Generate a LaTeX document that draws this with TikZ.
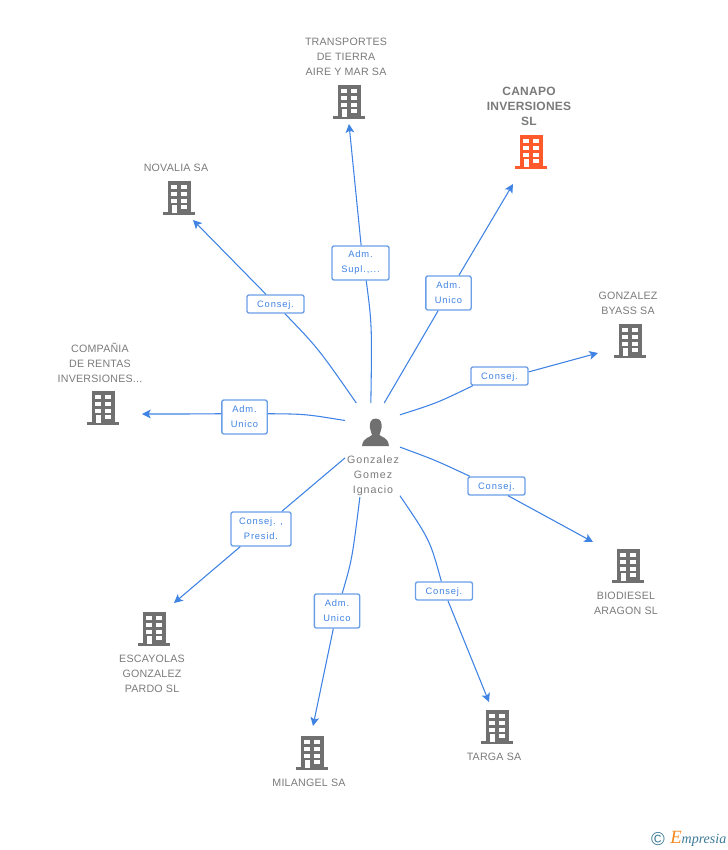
\documentclass[tikz,border=0pt]{standalone}
\usepackage{fontspec}
\setmainfont[LetterSpace=2]{Liberation Sans}
\newfontfamily\linkfont[LetterSpace=9]{Liberation Sans}
\newfontfamily\logofont{Liberation Serif}
\usepackage{tikz}
\usetikzlibrary{arrows.meta}
\definecolor{linkblue}{HTML}{3F83E4}
\definecolor{boxblue}{HTML}{6A9FE8}
\definecolor{bldggray}{HTML}{707070}
\definecolor{textgray}{HTML}{7A7A7A}
\definecolor{mainred}{HTML}{FF5A2C}
\definecolor{logoteal}{HTML}{3C7A96}
\definecolor{logoorange}{HTML}{F28A1E}
\tikzstyle{company}=[align=center,text=textgray,inner sep=0,font=\fontsize{8}{11.25}\selectfont]
\tikzstyle{maincompany}=[company,font=\fontsize{9}{11.25}\selectfont\bfseries]
\tikzstyle{person}=[company,font=\linkfont\fontsize{8}{11.25}\selectfont]
\tikzstyle{role}=[draw=boxblue,fill=white,rounded corners=1.5pt,line width=1pt,align=center,
  text=linkblue,inner sep=0,font=\linkfont\fontsize{7}{11.25}\selectfont,
  execute at begin node={\rule{0pt}{6.9pt}}]
\tikzstyle{link}=[draw=linkblue,line width=0.8pt]
\tikzstyle{arrow}=[link,-{Stealth[length=6.5pt,width=6.5pt,inset=1.5pt]}]
\tikzset{
  pics/building/.style={code={
    \fill[#1] (-11,-34) rectangle (12,-2);
    \fill[#1] (-16,-3) rectangle (16,0);
    \foreach \ypos in {-30,-23,-16} {
      \fill[white] (-7.7,\ypos) rectangle (-2.3,\ypos+4);
      \fill[white] (2.3,\ypos) rectangle (7.7,\ypos+4);
    }
    \fill[white] (2.3,-10) rectangle (7.7,-6);
    \fill[white] (-7,-10) rectangle (-2.3,-2);
  }}
}
\begin{document}
\begin{tikzpicture}[x=0.75pt,y=-0.75pt]
  \useasboundingbox (0,0) rectangle (728,850);
  % companies
  \pic at (349,119) {building=bldggray};
  \pic at (531,169) {building=mainred};
  \pic at (179,215) {building=bldggray};
  \pic at (630,358) {building=bldggray};
  \pic at (103,425) {building=bldggray};
  \pic at (628,583) {building=bldggray};
  \pic at (154,646) {building=bldggray};
  \pic at (312,770) {building=bldggray};
  \pic at (497,744) {building=bldggray};
  \node[company] at (346,57) (transportes) {TRANSPORTES\\DE TIERRA\\AIRE Y MAR SA};
  \node[maincompany] at (529,106) (canapo) {CANAPO\\INVERSIONES\\SL};
  \node[company] at (176,168) (novalia) {NOVALIA SA};
  \node[company] at (628,303.5) (byass) {GONZALEZ\\BYASS SA};
  \node[company] at (100,363) (rentas) {COMPA\~NIA\\DE RENTAS\\INVERSIONES...};
  \node[company] at (626,603.5) (biodiesel) {BIODIESEL\\ARAGON SL};
  \node[company] at (152,674) (escayolas) {ESCAYOLAS\\GONZALEZ\\PARDO SL};
  \node[company] at (309,783) (milangel) {MILANGEL SA};
  \node[company] at (494,757) (targa) {TARGA SA};
  % person
  \fill[bldggray] (375.7,418.5) .. controls (370,418.5) and (369.5,424) .. (370,428)
    .. controls (370.5,431) and (371.5,433) .. (372,435)
    .. controls (371,437) and (363,437) .. (362,446)
    -- (389,446) .. controls (388,437) and (381,437) .. (379.5,435)
    .. controls (380,433) and (381,431) .. (381.5,428)
    .. controls (382,424) and (381.5,418.5) .. (375.7,418.5) -- cycle;
  \node[person] at (373,476) (name) {Gonzalez\\Gomez\\Ignacio};
  \node[minimum width=41.25pt,minimum height=70.5pt,inner sep=0,outer sep=0] at (372.5,450) (hub) {};
  % roles
  \node[role,minimum width=42.75pt,minimum height=25.5pt] at (360.5,263) (supl) {Adm.\\Supl.,...};
  \node[role,minimum width=34pt,minimum height=25.5pt] at (448.5,293) (unicocanapo) {Adm.\\Unico};
  \node[role,minimum width=42.75pt,minimum height=13.5pt] at (275.5,304) (consejnovalia) {Consej.};
  \node[role,minimum width=42.75pt,minimum height=13.5pt] at (499.5,376) (consejbyass) {Consej.};
  \node[role,minimum width=34pt,minimum height=25.5pt] at (244.5,417) (unicorentas) {Adm.\\Unico};
  \node[role,minimum width=42.75pt,minimum height=13.5pt] at (496.5,486) (consejbiodiesel) {Consej.};
  \node[role,minimum width=45pt,minimum height=25.5pt] at (261,529) (presid) {Consej. ,\\Presid.};
  \node[role,minimum width=34pt,minimum height=25.5pt] at (337,611) (unicomilangel) {Adm.\\Unico};
  \node[role,minimum width=42.75pt,minimum height=13.5pt] at (444,591) (consejtarga) {Consej.};
  % arrow ends
  \coordinate (tiptransportes) at (349,124);
  \coordinate (tipcanapo) at (513,184);
  \coordinate (tipnovalia) at (193,220);
  \coordinate (tipbyass) at (598,353);
  \coordinate (tiprentas) at (142,414);
  \coordinate (tipbiodiesel) at (593,542);
  \coordinate (tipescayolas) at (174,603);
  \coordinate (tipmilangel) at (313,726);
  \coordinate (tiptarga) at (489,702);
  % connectors
  \draw[link] (hub.92) .. controls (372,325) .. (supl.-72);
  \draw[arrow] (supl.88) -- (tiptransportes);
  \draw[link] (hub.76) -- (unicocanapo);
  \draw[arrow] (unicocanapo) -- (tipcanapo);
  \draw[link] (hub.109) .. controls (318,348) .. (consejnovalia);
  \draw[arrow] (consejnovalia) -- (tipnovalia);
  \draw[link] (hub.52) .. controls (437,403) .. (consejbyass.-160);
  \draw[arrow] (consejbyass.8) -- (tipbyass);
  \draw[link] (hub.133.6) .. controls (305,414) .. (unicorentas.8);
  \draw[arrow] (unicorentas.172) .. controls (190,414) .. (tiprentas);
  \draw[link] (hub.6) .. controls (435,460) .. (consejbiodiesel.160);
  \draw[arrow] (consejbiodiesel.-40) -- (tipbiodiesel);
  \draw[link] (hub.196) -- (presid);
  \draw[arrow] (presid) -- (tipescayolas);
  \draw[link] (hub.-105) .. controls (352,560) .. (unicomilangel);
  \draw[arrow] (unicomilangel) -- (tipmilangel);
  \draw[link] (hub.-59) .. controls (430,540) .. (consejtarga);
  \draw[arrow] (consejtarga) -- (tiptarga);
  % logo
  \node[text=logoteal,inner sep=0,font=\fontsize{14}{14}\selectfont] at (658,839) (copyright) {\textcopyright};
  \node[text=logoteal,inner sep=0,anchor=base west,font=\logofont\itshape\fontsize{10.5}{11}\selectfont] at (670,843)
    (logo) {{\color{logoorange}\fontsize{14}{11}\selectfont E}mpresia};
\end{tikzpicture}
\end{document}
